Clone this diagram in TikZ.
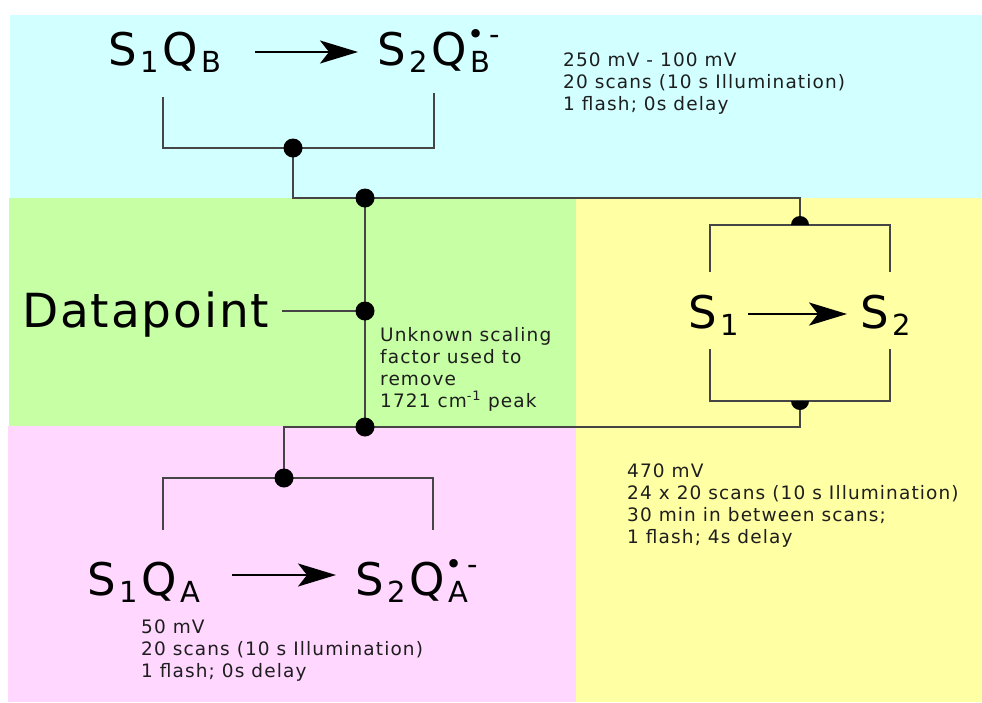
\documentclass[tikz,border=0pt]{standalone}
\usepackage{fontspec}
\setmainfont{DejaVu Sans}
\newfontfamily\bigf[LetterSpace=4]{DejaVu Sans}
\newfontfamily\smallf[LetterSpace=6]{DejaVu Sans}
\usetikzlibrary{arrows.meta}
\definecolor{cyanbg}{HTML}{D2FFFF}
\definecolor{greenbg}{HTML}{C6FFA4}
\definecolor{yellowbg}{HTML}{FFFFA3}
\definecolor{pinkbg}{HTML}{FFD7FF}
\definecolor{wirecol}{HTML}{454545}
\definecolor{txtcol}{HTML}{1E1E1E}
\newcommand\lowsub[1]{\kern4pt\raisebox{-7pt}{\fontsize{29}{29}\selectfont #1}\kern3pt}
\newcommand\radsub[1]{\kern4pt\rlap{\raisebox{21pt}{\fontsize{29}{29}\selectfont \kern-3pt•\kern5pt-}}\raisebox{-7pt}{\fontsize{29}{29}\selectfont #1}}
\begin{document}
\begin{tikzpicture}[x=1pt,y=-1pt,
  wire/.style={draw=wirecol, line width=1.4pt},
  bigtxt/.style={font=\fontsize{45}{45}\selectfont, inner sep=0pt, anchor=base west},
  smalltxt/.style={font=\smallf\fontsize{18.5}{22}\selectfont, text=txtcol, inner sep=0pt, anchor=base west, align=left},
  reacarrow/.style={line width=2.2pt, -{Stealth[length=38pt,width=23pt,inset=9pt]}}]
\useasboundingbox (0,0) rectangle (982,702);
% backgrounds
\fill[cyanbg] (10,15) rectangle (982,198);
\fill[greenbg] (9,198) rectangle (576,426);
\fill[yellowbg] (576,198) rectangle (982,702);
\fill[pinkbg] (8,426) rectangle (576,702);

% text nodes
\node[bigtxt] (s1qb) at (108,65) {S\lowsub{1}Q\lowsub{B}};
\node[bigtxt] (s2qb) at (377,65) {S\lowsub{2}Q\radsub{B}};
\node[bigtxt, font=\bigf\fontsize{47}{47}\selectfont] (dp) at (22,327) {Datapoint};
\node[bigtxt] (s1) at (688,328) {S\lowsub{1}};
\node[bigtxt] (s2) at (860,328) {S\lowsub{2}};
\node[bigtxt] (s1qa) at (87,595) {S\lowsub{1}Q\lowsub{A}};
\node[bigtxt] (s2qa) at (355,595) {S\lowsub{2}Q\radsub{A}};

\node[smalltxt] (tcyan) at (563,110) {250 mV - 100 mV\\20 scans (10 s Illumination)\\1 flash; 0s delay};
\node[smalltxt] (tgreen) at (380,407) {Unknown scaling\\factor used to\\remove\\1721 cm\textsuperscript{-1} peak};
\node[smalltxt] (tyellow) at (627,543) {470 mV\\24 x 20 scans (10 s Illumination)\\30 min in between scans;\\1 flash; 4s delay};
\node[smalltxt] (tpink) at (141,677) {50 mV\\20 scans (10 s Illumination)\\1 flash; 0s delay};

% junction coordinates
\coordinate (jb) at (293,148);
\coordinate (jtop) at (365,198);
\coordinate (jmid) at (365,311);
\coordinate (jbot) at (365,427);
\coordinate (ja) at (284,478);
\coordinate (jyt) at (800,225);
\coordinate (jyb) at (800,401);
\coordinate (dpend) at (282,311);

% arrows
\coordinate (aqb1) at (255,52); \coordinate (aqb2) at (358,52);
\coordinate (as1) at (748,314); \coordinate (as2) at (847,314);
\coordinate (aqa1) at (232,575); \coordinate (aqa2) at (336,575);
\draw[reacarrow] (aqb1) -- (aqb2);
\draw[reacarrow] (as1) -- (as2);
\draw[reacarrow] (aqa1) -- (aqa2);

% wires
\draw[wire] (163,97) |- (jb) -| (434,93);
\draw[wire] (jb) |- (jtop) -| (jyt);
\draw[wire] (710,272) |- (jyt) -| (890,272);
\draw[wire] (710,349) |- (jyb) -| (890,349);
\draw[wire] (jtop) -- (jmid) -- (jbot);
\draw[wire] (dpend) -- (jmid);
\draw[wire] (jyb) |- (jbot) -| (ja);
\draw[wire] (163,530) |- (ja) -| (433,530);

% dots
\foreach \p in {jb,jtop,jmid,jbot,ja} \fill (\p) circle[radius=9.5];
\fill ([xshift=-9pt]jyt) arc[start angle=180, end angle=360, radius=9] -- cycle;
\fill ([xshift=-9pt]jyb) arc[start angle=180, end angle=0, radius=9] -- cycle;
\end{tikzpicture}
\end{document}
